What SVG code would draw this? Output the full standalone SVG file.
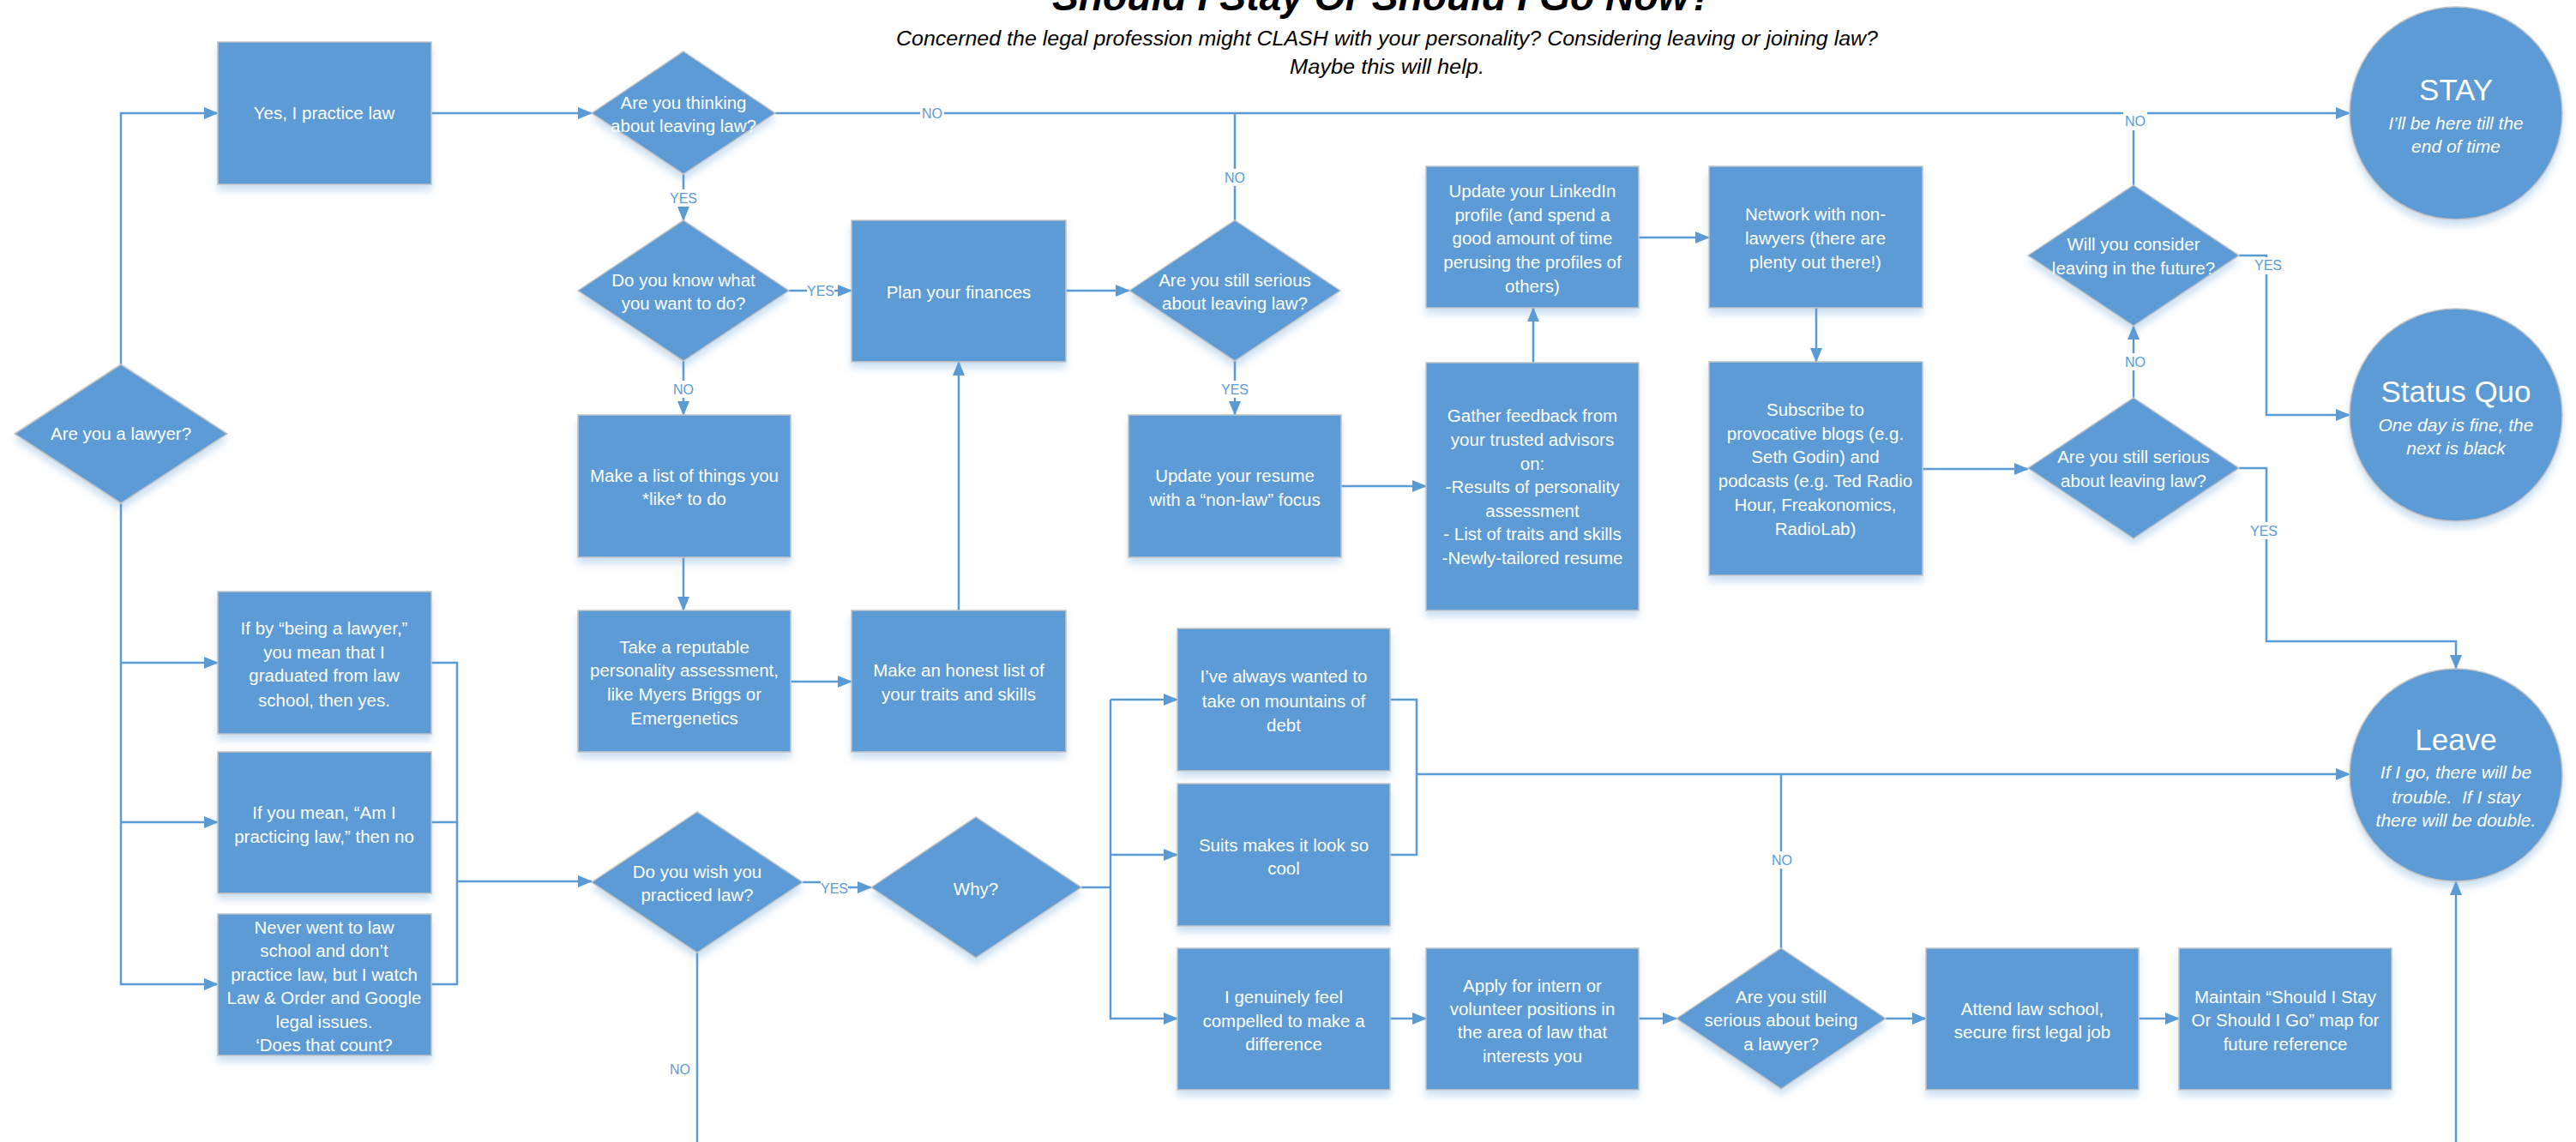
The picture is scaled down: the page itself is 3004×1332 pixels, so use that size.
<svg xmlns="http://www.w3.org/2000/svg" width="3004" height="1332" viewBox="0 0 3004 1332">
<defs>
<style>
.sh{fill:#5B9BD5;stroke:#C4C4C4;stroke-width:1.5;filter:url(#ds)}
.t{fill:#FFFFFF;font-family:"Liberation Sans",Arial,sans-serif;font-size:20.5px;text-anchor:middle}
.big{fill:#FFFFFF;font-family:"Liberation Sans",Arial,sans-serif;font-size:35px;text-anchor:middle}
.it{fill:#FFFFFF;font-family:"Liberation Sans",Arial,sans-serif;font-size:21px;font-style:italic;text-anchor:middle}
.c{fill:none;stroke:#5B9BD5;stroke-width:2.5}
.a{marker-end:url(#ah)}
.lb{fill:#FFFFFF}
.lt{fill:#5B9BD5;font-family:"Liberation Sans",Arial,sans-serif;font-size:16px;text-anchor:middle}
.hd{fill:#000000;font-family:"Liberation Sans",Arial,sans-serif;font-style:italic}
</style>
<marker id="ah" markerUnits="userSpaceOnUse" markerWidth="17" markerHeight="14" refX="16" refY="7" orient="auto"><path d="M0,0L17,7L0,14z" fill="#5B9BD5"/></marker>
<filter id="ds" x="-10%" y="-10%" width="120%" height="130%"><feDropShadow dx="0" dy="7" stdDeviation="4" flood-color="#5B9BD5" flood-opacity="0.3"/></filter>
</defs>
<rect width="3004" height="1332" fill="#FFFFFF"/>

<g id="header">
<text class="hd" x="1227" y="12" font-size="46" font-weight="bold" textLength="771" lengthAdjust="spacingAndGlyphs">Should I Stay Or Should I Go Now?</text>
<text class="hd" x="1045" y="53" font-size="23" textLength="1145" lengthAdjust="spacingAndGlyphs">Concerned the legal profession might CLASH with your personality? Considering leaving or joining law?</text>
<text class="hd" x="1504" y="86" font-size="23" textLength="227" lengthAdjust="spacingAndGlyphs">Maybe this will help.</text>
</g>

<g id="connectors">
<path class="c a" d="M141,425 V132 H254"/>
<path class="c a" d="M503,132 H690"/>
<path class="c a" d="M904,132 H2740"/>
<path class="c" d="M1440,257 V132"/>
<path class="c" d="M2488,216 V132"/>
<path class="c a" d="M797,203 V257"/>
<path class="c a" d="M920,339 H993"/>
<path class="c a" d="M797,421 V484"/>
<path class="c a" d="M797,650 V712"/>
<path class="c a" d="M922,795 H993"/>
<path class="c a" d="M1118,712 V422"/>
<path class="c a" d="M1243,339 H1317"/>
<path class="c a" d="M1440,421 V484"/>
<path class="c a" d="M1564,567 H1663"/>
<path class="c a" d="M1788,423 V359"/>
<path class="c a" d="M1911,277 H1993"/>
<path class="c a" d="M2118,359 V422"/>
<path class="c a" d="M2242,547 H2365"/>
<path class="c a" d="M2488,464 V380"/>
<path class="c a" d="M2611,298 H2643 V484 H2740"/>
<path class="c a" d="M2611,546 H2643 V748 H2864 V780"/>
<path class="c a" d="M141,587 V1148 H254"/>
<path class="c a" d="M141,773 H254"/>
<path class="c a" d="M141,959 H254"/>
<path class="c" d="M503,773 H533 V1148 H503"/>
<path class="c" d="M503,959 H533"/>
<path class="c a" d="M533,1028 H690"/>
<path class="c a" d="M936,1029 H973 V1035 H1016"/>
<path class="c" d="M1261,1035 H1295"/>
<path class="c a" d="M1295,816 V1188 H1373"/>
<path class="c a" d="M1295,816 H1373"/>
<path class="c a" d="M1295,997 H1373"/>
<path class="c" d="M1621,816 H1652 V997 H1621"/>
<path class="c a" d="M1652,903 H2740"/>
<path class="c a" d="M1621,1188 H1663"/>
<path class="c a" d="M1911,1188 H1955"/>
<path class="c" d="M2077,1106 V903"/>
<path class="c a" d="M2199,1188 H2246"/>
<path class="c a" d="M2494,1188 H2541"/>
<path class="c a" d="M2864,1332 V1028"/>
<path class="c" d="M813,1111 V1332"/>
<g id="labels">
<rect class="lb" x="1073" y="122" width="28" height="20"/><text class="lt" x="1087" y="138">NO</text>
<rect class="lb" x="1426" y="197" width="28" height="20"/><text class="lt" x="1440" y="213">NO</text>
<rect class="lb" x="2476" y="130" width="28" height="22"/><text class="lt" x="2490" y="147">NO</text>
<rect class="lb" x="781" y="221" width="32" height="20"/><text class="lt" x="797" y="237">YES</text>
<rect class="lb" x="941" y="329" width="32" height="20"/><text class="lt" x="957" y="345">YES</text>
<rect class="lb" x="783" y="444" width="28" height="20"/><text class="lt" x="797" y="460">NO</text>
<rect class="lb" x="1424" y="444" width="32" height="20"/><text class="lt" x="1440" y="460">YES</text>
<rect class="lb" x="2476" y="412" width="28" height="20"/><text class="lt" x="2490" y="428">NO</text>
<rect class="lb" x="2629" y="300" width="32" height="20"/><text class="lt" x="2645" y="315">YES</text>
<rect class="lb" x="2624" y="609" width="32" height="20"/><text class="lt" x="2640" y="625">YES</text>
<rect class="lb" x="957" y="1026" width="32" height="20"/><text class="lt" x="973" y="1042">YES</text>
<rect class="lb" x="2064" y="993" width="28" height="20"/><text class="lt" x="2078" y="1009">NO</text>
<text class="lt" x="793" y="1253">NO</text>
</g>
</g>

<g id="n-lawyer"><polygon class="sh" points="17,506 141,425 265,506 141,587"/><text class="t" x="141" y="513">Are you a lawyer?</text></g>
<g id="n-practice"><rect class="sh" x="254" y="49" width="249" height="166"/><text class="t" x="378" y="139">Yes, I practice law</text></g>
<g id="n-thinking"><polygon class="sh" points="690,132 797,60 904,132 797,203"/><text class="t"><tspan x="797" y="127">Are you thinking</tspan><tspan x="797" y="154">about leaving law?</tspan></text></g>
<g id="n-know"><polygon class="sh" points="674,339 797,257 920,339 797,421"/><text class="t"><tspan x="797" y="334">Do you know what</tspan><tspan x="797" y="361">you want to do?</tspan></text></g>
<g id="n-plan"><rect class="sh" x="993" y="257" width="250" height="165"/><text class="t" x="1118" y="348">Plan your finances</text></g>
<g id="n-serious1"><polygon class="sh" points="1317,339 1440,257 1563,339 1440,421"/><text class="t"><tspan x="1440" y="334">Are you still serious</tspan><tspan x="1440" y="361">about leaving law?</tspan></text></g>
<g id="n-linkedin"><rect class="sh" x="1663" y="194" width="248" height="165"/><text class="t"><tspan x="1787" y="230">Update your LinkedIn</tspan><tspan x="1787" y="258">profile (and spend a</tspan><tspan x="1787" y="285">good amount of time</tspan><tspan x="1787" y="313">perusing the profiles of</tspan><tspan x="1787" y="341">others)</tspan></text></g>
<g id="n-network"><rect class="sh" x="1993" y="194" width="249" height="165"/><text class="t"><tspan x="2117" y="257">Network with non-</tspan><tspan x="2117" y="285">lawyers (there are</tspan><tspan x="2117" y="313">plenty out there!)</tspan></text></g>
<g id="n-future"><polygon class="sh" points="2365,298 2488,216 2611,298 2488,380"/><text class="t"><tspan x="2488" y="292">Will you consider</tspan><tspan x="2488" y="320">leaving in the future?</tspan></text></g>
<g id="n-stay"><circle class="sh" cx="2864" cy="132" r="124"/><text class="big" x="2864" y="117">STAY</text><text class="it"><tspan x="2864" y="151">I’ll be here till the</tspan><tspan x="2864" y="178">end of time</tspan></text></g>
<g id="n-likes"><rect class="sh" x="674" y="484" width="248" height="166"/><text class="t"><tspan x="798" y="562">Make a list of things you</tspan><tspan x="798" y="589">*like* to do</tspan></text></g>
<g id="n-resume"><rect class="sh" x="1316" y="484" width="248" height="166"/><text class="t"><tspan x="1440" y="562">Update your resume</tspan><tspan x="1440" y="590">with a “non-law” focus</tspan></text></g>
<g id="n-gather"><rect class="sh" x="1663" y="423" width="248" height="289"/><text class="t"><tspan x="1787" y="492">Gather feedback from</tspan><tspan x="1787" y="520">your trusted advisors</tspan><tspan x="1787" y="548">on:</tspan><tspan x="1787" y="575">-Results of personality</tspan><tspan x="1787" y="603">assessment</tspan><tspan x="1787" y="630">- List of traits and skills</tspan><tspan x="1787" y="658">-Newly-tailored resume</tspan></text></g>
<g id="n-subscribe"><rect class="sh" x="1993" y="422" width="249" height="249"/><text class="t"><tspan x="2117" y="485">Subscribe to</tspan><tspan x="2117" y="513">provocative blogs (e.g.</tspan><tspan x="2117" y="540">Seth Godin) and</tspan><tspan x="2117" y="568">podcasts (e.g. Ted Radio</tspan><tspan x="2117" y="596">Hour, Freakonomics,</tspan><tspan x="2117" y="624">RadioLab)</tspan></text></g>
<g id="n-serious2"><polygon class="sh" points="2365,546 2488,464 2611,546 2488,628"/><text class="t"><tspan x="2488" y="540">Are you still serious</tspan><tspan x="2488" y="568">about leaving law?</tspan></text></g>
<g id="n-statusquo"><circle class="sh" cx="2864" cy="484" r="124"/><text class="big" x="2864" y="469">Status Quo</text><text class="it"><tspan x="2864" y="503">One day is fine, the</tspan><tspan x="2864" y="530">next is black</tspan></text></g>
<g id="n-assessment"><rect class="sh" x="674" y="712" width="248" height="165"/><text class="t"><tspan x="798" y="762">Take a reputable</tspan><tspan x="798" y="789">personality assessment,</tspan><tspan x="798" y="817">like Myers Briggs or</tspan><tspan x="798" y="845">Emergenetics</tspan></text></g>
<g id="n-honest"><rect class="sh" x="993" y="712" width="250" height="165"/><text class="t"><tspan x="1118" y="789">Make an honest list of</tspan><tspan x="1118" y="817">your traits and skills</tspan></text></g>
<g id="n-ifby"><rect class="sh" x="254" y="690" width="249" height="166"/><text class="t"><tspan x="378" y="740">If by “being a lawyer,”</tspan><tspan x="378" y="768">you mean that I</tspan><tspan x="378" y="795">graduated from law</tspan><tspan x="378" y="824">school, then yes.</tspan></text></g>
<g id="n-ifmean"><rect class="sh" x="254" y="877" width="249" height="165"/><text class="t"><tspan x="378" y="955">If you mean, “Am I</tspan><tspan x="378" y="983">practicing law,” then no</tspan></text></g>
<g id="n-never"><rect class="sh" x="254" y="1066" width="249" height="165"/><text class="t"><tspan x="378" y="1089">Never went to law</tspan><tspan x="378" y="1116">school and don’t</tspan><tspan x="378" y="1144">practice law, but I watch</tspan><tspan x="378" y="1171">Law &amp; Order and Google</tspan><tspan x="378" y="1199">legal issues.</tspan><tspan x="378" y="1226">‘Does that count?</tspan></text></g>
<g id="n-wish"><polygon class="sh" points="690,1029 813,947 936,1029 813,1111"/><text class="t"><tspan x="813" y="1024">Do you wish you</tspan><tspan x="813" y="1051">practiced law?</tspan></text></g>
<g id="n-why"><polygon class="sh" points="1016,1035 1138,953 1261,1035 1138,1117"/><text class="t" x="1138" y="1044">Why?</text></g>
<g id="n-debt"><rect class="sh" x="1373" y="733" width="248" height="166"/><text class="t"><tspan x="1497" y="796">I’ve always wanted to</tspan><tspan x="1497" y="825">take on mountains of</tspan><tspan x="1497" y="853">debt</tspan></text></g>
<g id="n-suits"><rect class="sh" x="1373" y="914" width="248" height="166"/><text class="t"><tspan x="1497" y="993">Suits makes it look so</tspan><tspan x="1497" y="1020">cool</tspan></text></g>
<g id="n-genuine"><rect class="sh" x="1373" y="1106" width="248" height="165"/><text class="t"><tspan x="1497" y="1170">I genuinely feel</tspan><tspan x="1497" y="1198">compelled to make a</tspan><tspan x="1497" y="1225">difference</tspan></text></g>
<g id="n-apply"><rect class="sh" x="1663" y="1106" width="248" height="165"/><text class="t"><tspan x="1787" y="1157">Apply for intern or</tspan><tspan x="1787" y="1184">volunteer positions in</tspan><tspan x="1787" y="1211">the area of law that</tspan><tspan x="1787" y="1239">interests you</tspan></text></g>
<g id="n-serious3"><polygon class="sh" points="1955,1188 2077,1106 2199,1188 2077,1270"/><text class="t"><tspan x="2077" y="1170">Are you still</tspan><tspan x="2077" y="1197">serious about being</tspan><tspan x="2077" y="1225">a lawyer?</tspan></text></g>
<g id="n-attend"><rect class="sh" x="2246" y="1106" width="248" height="165"/><text class="t"><tspan x="2370" y="1184">Attend law school,</tspan><tspan x="2370" y="1211">secure first legal job</tspan></text></g>
<g id="n-maintain"><rect class="sh" x="2541" y="1106" width="248" height="165"/><text class="t"><tspan x="2665" y="1170">Maintain “Should I Stay</tspan><tspan x="2665" y="1197">Or Should I Go” map for</tspan><tspan x="2665" y="1225">future reference</tspan></text></g>
<g id="n-leave"><circle class="sh" cx="2864" cy="904" r="124"/><text class="big" x="2864" y="875">Leave</text><text class="it"><tspan x="2864" y="908">If I go, there will be</tspan><tspan x="2864" y="937">trouble.&#160; If I stay</tspan><tspan x="2864" y="964">there will be double.</tspan></text></g>
</svg>
